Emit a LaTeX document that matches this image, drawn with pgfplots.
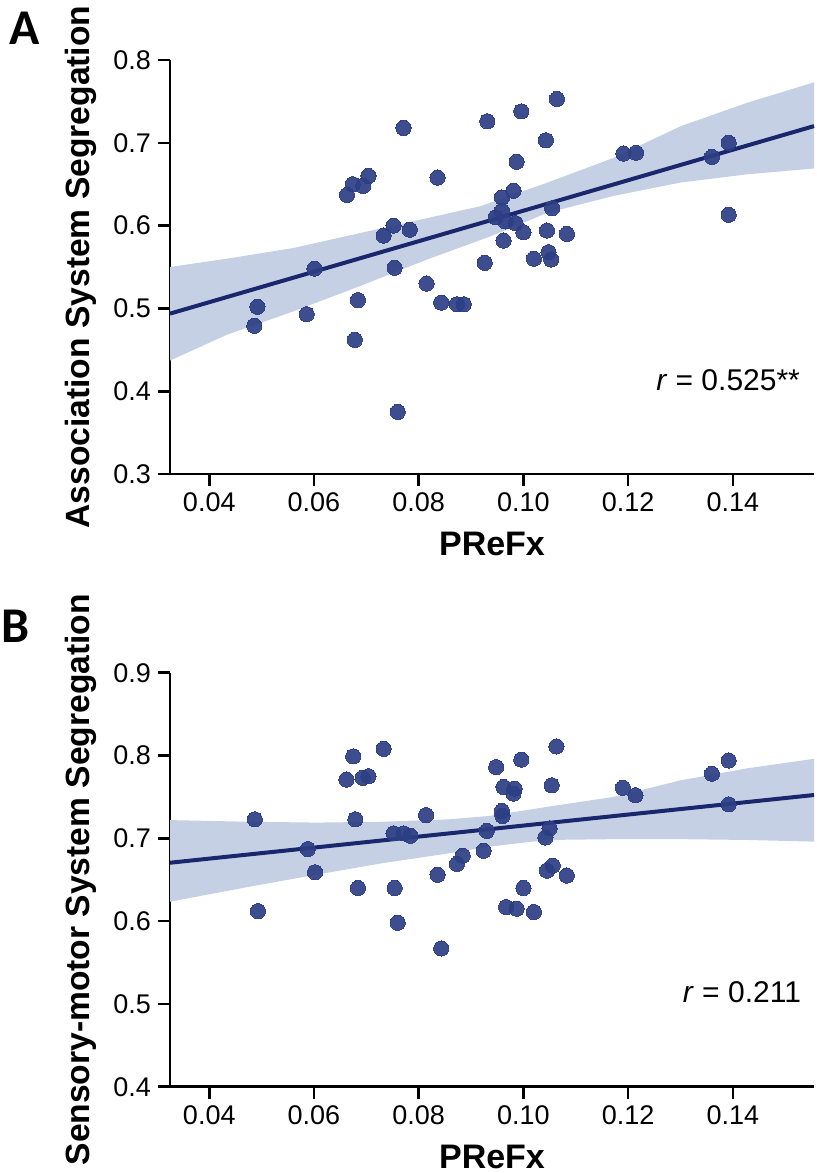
\documentclass[border=0pt]{standalone}
\usepackage{pgfplots}
\pgfplotsset{compat=1.18}
\usepackage{fontspec}
\setmainfont{Liberation Sans}
\newfontfamily\letterfont{Carlito}
\definecolor{ptcol}{RGB}{44,62,132}
\definecolor{lncol}{RGB}{26,39,108}
\definecolor{bandcol}{RGB}{198,208,228}
\pgfplotsset{
  myax/.style={
    scale only axis, width=322pt, height=207pt,
    xmin=0.0325, xmax=0.1555,
    axis x line*=bottom, axis y line*=left,
    axis line style={line width=1.3pt, -},
    tick align=outside, major tick length=6pt,
    tick style={line width=1.3pt, black},
    xtick={0.04,0.06,0.08,0.10,0.12,0.14},
    xticklabels={0.04,0.06,0.08,0.10,0.12,0.14},
    ticklabel style={font=\fontsize{13.5}{13.5}\selectfont},
    xlabel={PReFx},
    xlabel style={font=\bfseries\fontsize{17}{17}\selectfont, at={(axis description cs:0.5,-0.1700)}, anchor=center},
    ylabel style={font=\bfseries\fontsize{16.8}{16.8}\selectfont, at={(axis description cs:-0.138,0.5)}, anchor=center},
    clip=false,
  },
  pts/.style={only marks, mark=*, mark size=3.8pt, mark options={fill=ptcol, draw=ptcol, line width=0pt, opacity=0.92}},
  regl/.style={lncol, line width=2pt},
  band/.style={fill=bandcol, draw=none},
}
\pgfplotstableread{
x y
0.0931 0.726
0.0771 0.718
0.0704 0.660
0.0674 0.650
0.0694 0.648
0.0663 0.637
0.0836 0.658
0.0752 0.600
0.0733 0.588
0.0783 0.595
0.0926 0.555
0.0601 0.548
0.0754 0.549
0.0815 0.530
0.0492 0.502
0.0486 0.479
0.0586 0.493
0.0684 0.510
0.0843 0.507
0.0873 0.505
0.0886 0.505
0.0678 0.462
0.0760 0.375
0.1064 0.753
0.0996 0.738
0.1043 0.703
0.0987 0.677
0.1191 0.687
0.1215 0.688
0.1392 0.700
0.1360 0.683
0.1392 0.613
0.0981 0.642
0.0959 0.634
0.1055 0.621
0.0959 0.618
0.0947 0.610
0.0966 0.605
0.0985 0.603
0.1000 0.592
0.1045 0.594
0.1083 0.590
0.0962 0.582
0.1020 0.560
0.1048 0.568
0.1053 0.559
}\dataA
\pgfplotstableread{
x y
0.0733 0.808
0.0675 0.799
0.0662 0.771
0.0693 0.773
0.0704 0.775
0.0487 0.723
0.0679 0.723
0.0814 0.728
0.0752 0.706
0.0771 0.706
0.0784 0.703
0.0930 0.709
0.0588 0.687
0.0602 0.659
0.0924 0.685
0.0884 0.679
0.0873 0.669
0.0836 0.656
0.0684 0.640
0.0754 0.640
0.0493 0.612
0.0760 0.598
0.0843 0.567
0.1063 0.811
0.0996 0.795
0.0948 0.786
0.0962 0.762
0.0983 0.760
0.0981 0.754
0.1054 0.764
0.1190 0.761
0.1214 0.752
0.1392 0.794
0.1360 0.778
0.1392 0.741
0.0959 0.733
0.0960 0.727
0.1050 0.712
0.1042 0.701
0.1056 0.667
0.1045 0.661
0.1083 0.655
0.1000 0.640
0.0967 0.617
0.0987 0.615
0.1020 0.611
}\dataB
\begin{document}
\begin{tikzpicture}
\path[use as bounding box] (0pt,0pt) rectangle (408.5pt,-586.5pt);
% Panel A
\begin{axis}[myax, at={(85pt,-237pt)}, anchor=south west,
  ymin=0.3, ymax=0.8,
  ytick={0.3,0.4,0.5,0.6,0.7,0.8},
  yticklabels={0.3,0.4,0.5,0.6,0.7,0.8},
  ylabel={Association System Segregation}]
\addplot[band] coordinates {
 (0.0325,0.550) (0.0433,0.560) (0.0561,0.573) (0.0688,0.591) (0.0816,0.609)
 (0.0918,0.6235) (0.1046,0.652) (0.1173,0.682) (0.1300,0.720) (0.1428,0.7485) (0.1555,0.773)
 (0.1555,0.669) (0.1428,0.662) (0.1300,0.652) (0.1173,0.636) (0.1046,0.6155)
 (0.0937,0.587) (0.0816,0.559) (0.0688,0.527) (0.0561,0.4965) (0.0433,0.468) (0.0325,0.437)
} -- cycle;
\addplot[pts] table[x=x,y=y] {\dataA};
\addplot[regl] coordinates {(0.0325,0.4937) (0.1555,0.7202)};
\end{axis}
% Panel B
\begin{axis}[myax, at={(85pt,-543.35pt)}, anchor=south west,
  ymin=0.4, ymax=0.9,
  ytick={0.4,0.5,0.6,0.7,0.8,0.9},
  yticklabels={0.4,0.5,0.6,0.7,0.8,0.9},
  ylabel={Sensory-motor System Segregation}]
\addplot[band] coordinates {
 (0.0325,0.722) (0.0476,0.720) (0.0604,0.719) (0.0731,0.720) (0.0859,0.723)
 (0.0935,0.727) (0.1045,0.738) (0.1172,0.750) (0.1300,0.770) (0.1427,0.7845) (0.1555,0.796)
 (0.1555,0.696) (0.1427,0.698) (0.1300,0.699) (0.1172,0.699) (0.1045,0.698)
 (0.0935,0.690) (0.0859,0.682) (0.0731,0.670) (0.0604,0.656) (0.0476,0.6415) (0.0325,0.6234)
} -- cycle;
\addplot[pts] table[x=x,y=y] {\dataB};
\addplot[regl] coordinates {(0.0325,0.6705) (0.1555,0.7523)};
\end{axis}
\node[font=\letterfont\bfseries\fontsize{25}{25}\selectfont] at (12.5pt,-14pt) {A};
\node[font=\letterfont\bfseries\fontsize{25}{25}\selectfont] at (8pt,-313pt) {B};
\node[anchor=east, font=\fontsize{15}{15}\selectfont] at (403.5pt,-190pt) {\textit{r} = 0.525**};
\node[anchor=east, font=\fontsize{15}{15}\selectfont] at (404pt,-495.9pt) {\textit{r} = 0.211};
\end{tikzpicture}
\end{document}
